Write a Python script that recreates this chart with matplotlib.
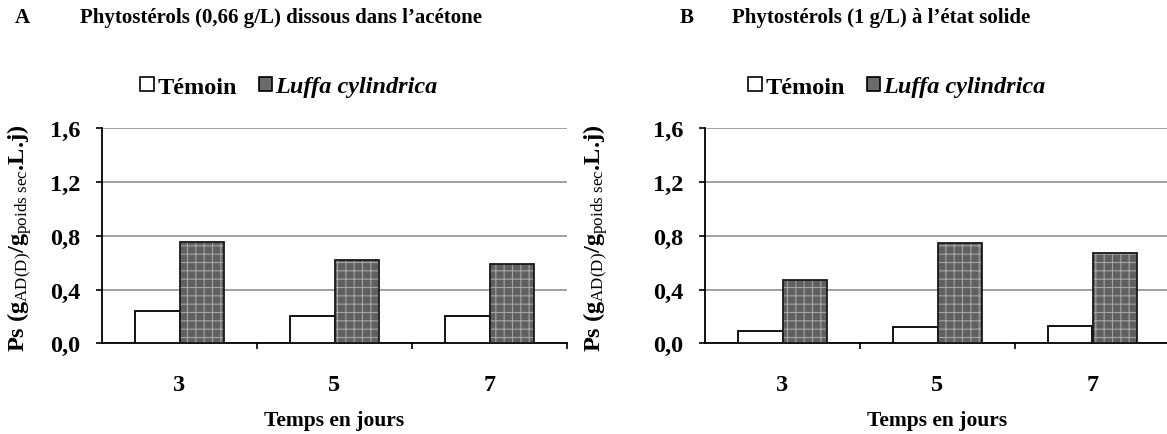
import numpy as np
import matplotlib.pyplot as plt
from matplotlib.patches import Patch

plt.rcParams['font.family'] = ['Liberation Serif', 'DejaVu Serif']
plt.rcParams['font.weight'] = 'bold'
plt.rcParams['mathtext.fontset'] = 'custom'
plt.rcParams['mathtext.rm'] = 'Liberation Serif:weight=normal'
plt.rcParams['mathtext.it'] = 'Liberation Serif:italic'
plt.rcParams['hatch.linewidth'] = 0.8

days = ["3", "5", "7"]
temoin_a = [0.243, 0.205, 0.205]
luffa_a = [0.754, 0.618, 0.588]
temoin_b = [0.089, 0.119, 0.126]
luffa_b = [0.471, 0.744, 0.670]

titles = ["Phytostérols (0,66 g/L) dissous dans l\u2019acétone",
          "Phytostérols (1 g/L) à l\u2019état solide"]
letters = ["A", "B"]
yticks = [0.0, 0.4, 0.8, 1.2, 1.6]

W, H = 1167, 435
fig = plt.figure(figsize=(W / 100, H / 100), dpi=100)

ax_left = [102, 705]
ax_w = 465
ax_bottom = 344.3
ax_h = 215

bw = 0.287
x = np.arange(len(days))

panels = [(temoin_a, luffa_a), (temoin_b, luffa_b)]
title_x = [(15, 80), (680, 732)]
legend_x = [289, 897]
ylabel_x = [20, 596]

for i, (tem, luf) in enumerate(panels):
    ax = fig.add_axes([ax_left[i] / W, 1 - ax_bottom / H, ax_w / W, ax_h / H])
    ax.bar(x - bw / 2, tem, bw, facecolor="white", edgecolor="black", linewidth=1.3, zorder=3)
    ax.bar(x + bw / 2, luf, bw, facecolor="#606060", edgecolor="#a5a5a5", hatch="++",
           linewidth=0, zorder=3)
    ax.bar(x + bw / 2, luf, bw, fill=False, edgecolor="#1a1a1a", linewidth=1.3, zorder=4)

    ax.set_xlim(-0.5, 2.5)
    ax.set_ylim(0, 1.6)
    ax.set_yticks(yticks)
    ax.set_yticklabels([f"{v:.1f}".replace(".", ",") for v in yticks], fontsize=17.5)
    ax.yaxis.grid(True, color="#9a9a9a", linewidth=1.3, zorder=0)
    ax.set_axisbelow(True)

    ax.set_xticks([0.5, 1.5, 2.5])
    ax.set_xticklabels([])
    ax.set_xticks(x, minor=True)
    ax.set_xticklabels(days, minor=True, fontsize=17.5)
    ax.tick_params(axis="x", which="major", length=4.5, width=1.2, direction="out")
    ax.tick_params(axis="x", which="minor", length=0, pad=22)
    ax.tick_params(axis="y", length=4.5, width=1.2, direction="out", pad=11)

    for s in ["top", "right"]:
        ax.spines[s].set_visible(False)
    for s in ["left", "bottom"]:
        ax.spines[s].set_linewidth(1.3)

    fig.text(ylabel_x[i] / W, 1 - (ax_bottom - ax_h / 2 + 2) / H,
             r"Ps (g$_{\mathrm{AD(D)}}$/g$_{\mathrm{poids\ sec}}$.L.j)",
             fontsize=17.5, rotation=90, ha="center", va="center")
    fig.text((ax_left[i] + ax_w / 2) / W, 1 - 421 / H, "Temps en jours",
             fontsize=15.5, ha="center", va="center")

    fig.text(title_x[i][0] / W, 1 - 18 / H, letters[i], fontsize=15, va="center", ha="left")
    fig.text(title_x[i][1] / W, 1 - 18 / H, titles[i], fontsize=15, va="center", ha="left")

    handles = [Patch(facecolor="white", edgecolor="black", linewidth=1.2),
               Patch(facecolor="#6a6a6a", edgecolor="black", linewidth=1.2)]
    leg = fig.legend(handles, ["Témoin", "Luffa cylindrica"], loc="center",
                     bbox_to_anchor=(legend_x[i] / W, 1 - 88 / H), ncol=2, frameon=False,
                     fontsize=17.5, handlelength=0.55, handleheight=0.55, handletextpad=0.15,
                     columnspacing=0.9)
    leg.get_texts()[1].set_style("italic")

fig.savefig("out.png", dpi=100)
